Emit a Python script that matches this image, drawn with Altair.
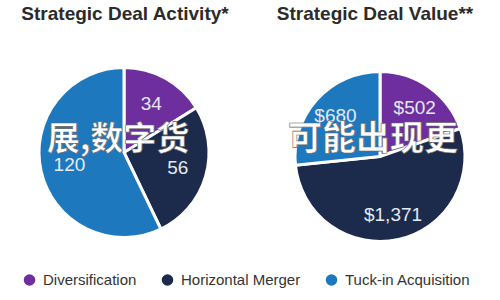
import altair as alt
import pandas as pd

categories = ["Diversification", "Horizontal Merger", "Tuck-in Acquisition"]
activity = [34, 56, 120]
value = [502, 1371, 680]
activity_labels = ["34", "56", "120"]
value_labels = ["$502", "$1,371", "$680"]
colors = ["#6E2E9E", "#1C2B4B", "#1E78BE"]
overlay_left = "展,数字货"
overlay_right = "可能出现更"

df_a = pd.DataFrame({"cat": categories, "v": activity, "lbl": activity_labels, "o": [0, 1, 2]})
df_v = pd.DataFrame({"cat": categories, "v": value, "lbl": value_labels, "o": [0, 1, 2]})

color = alt.Color("cat:N", scale=alt.Scale(domain=categories, range=colors),
                  legend=alt.Legend(title=None))


def pie(df, title, overlay, xoff, yoff, lrad, ox, oy, ofs):
    base = alt.Chart(df).encode(
        theta=alt.Theta("v:Q", stack=True),
        order=alt.Order("o:Q"),
    )
    arc = base.mark_arc(outerRadius=85, stroke="white", strokeWidth=3,
                        xOffset=xoff, yOffset=yoff).encode(color=color)
    txt = base.mark_text(radius=lrad, fontSize=19, fill="#E3EAF2", font="Liberation Sans",
                         xOffset=xoff, yOffset=yoff).encode(text="lbl:N")
    ov = alt.Chart(pd.DataFrame({"t": [overlay]})).mark_text(
        fontSize=ofs, fontWeight="bold", fill="white", font="Noto Sans CJK SC",
        stroke="#666", strokeWidth=0.6, xOffset=xoff + ox, yOffset=yoff + oy
    ).encode(text="t:N")
    return alt.layer(arc, txt, ov).properties(
        width=250, height=215,
        title=alt.Title(title, fontSize=19, fontWeight="bold", color="#2B2B2B",
                        font="Liberation Sans", offset=6)
    )


left = pie(df_a, "Strategic Deal Activity*", overlay_left, -1, 15, 56, -6, -13, 33)
right = pie(df_v, "Strategic Deal Value**", overlay_right, 5, 19, 60, -7, -17, 34)

chart = alt.hconcat(left, right, spacing=0).properties(
    padding={"left": 0, "right": 0, "top": 5, "bottom": 0}
).configure_view(stroke=None).configure_legend(
    orient="none", legendX=22, legendY=242, direction="horizontal",
    symbolType="circle", symbolSize=170,
    labelFontSize=15, labelFont="Liberation Sans", labelColor="#333",
    columnPadding=20, labelOffset=6
)

chart.save("out.html", embed_options={"renderer": "svg", "actions": False})
